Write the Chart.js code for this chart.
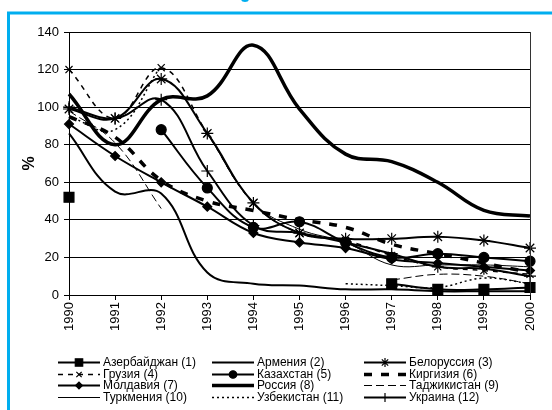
<!DOCTYPE html>
<html>
<head>
<meta charset="utf-8">
<script src="https://cdn.jsdelivr.net/npm/chart.js@4.4.1/dist/chart.umd.min.js"></script>
<style>
    html, body { margin: 0; padding: 0; background: #fff; }
    #wrap { width: 552px; height: 410px; }
</style>
</head>
<body>
<div id="wrap"><canvas id="chart" width="552" height="410"></canvas></div>
<script>
// Data
const years = ['1990', '1991', '1992', '1993', '1994', '1995', '1996', '1997', '1998', '1999', '2000'];
const yTickStep = 20;
const yMax = 140;

const azerbaijan   = [52, null, null, null, null, null, null, 6, 3, 3, 4];
const armenia      = [86, 55, 54, 12, 6, 5, 3, 3, 2, 2, 2];
const belarus      = [99, 94, 115, 86, 49, 33, 30, 30, 31, 29, 25];
const georgia      = [120, 94, 121, 86, 49, 33, 29, 21, 15, 13, 11];
const kazakhstan   = [null, null, 88, 57, 36, 39, 28, 20, 22, 20, 18];
const kyrgyzstan   = [95, 84, 61, 50, 45, 40, 36, 27, 22, 17, 12];
const moldova      = [91, 74, 60, 47, 33, 28, 25, 19, 17, 15, 13];
const russia       = [107, 80, 104, 106, 133, 99, 75, 71, 60, 45, 42];
const tajikistan   = [98, 81, 46, null, null, null, null, 8, 11, 10, 6];
const turkmenistan = [null, null, null, 86, 49, 35, 28, 16, 16, 16, 15];
const uzbekistan   = [95, 88, 122, null, null, null, 6, 5, 4, 9, 6];
const ukraine      = [100, 94, 104, 66, 37, 33, 28, 22, 15, 14, 10];

const FONT = '"Liberation Sans", Arial, sans-serif';

function series(label, data, width, dash, style, radius) {
    return {
        label: label,
        data: data,
        borderColor: '#000',
        backgroundColor: '#000',
        borderWidth: width,
        borderDash: dash,
        pointStyle: style || 'circle',
        pointRadius: style ? radius : 0,
        pointHoverRadius: style ? radius : 0,
        pointBackgroundColor: '#000',
        pointBorderColor: '#000',
        pointBorderWidth: 1.2,
        tension: 0.4,
        fill: false,
        clip: false
    };
}

const datasets = [
    series('Азербайджан (1)', azerbaijan, 2, [], 'rect', 7),
    series('Армения (2)', armenia, 2, []),
    series('Белоруссия (3)', belarus, 2, [], 'star', 6),
    series('Грузия (4)', georgia, 1.5, [5, 5], 'crossRot', 5),
    series('Казахстан (5)', kazakhstan, 2, [], 'circle', 5),
    series('Киргизия (6)', kyrgyzstan, 3.5, [8, 9]),
    series('Молдавия (7)', moldova, 2, [], 'rectRot', 4.5),
    series('Россия (8)', russia, 3.5, []),
    series('Таджикистан (9)', tajikistan, 1, [8, 4]),
    series('Туркмения (10)', turkmenistan, 1, []),
    series('Узбекистан (11)', uzbekistan, 1.5, [2, 3]),
    series('Украина (12)', ukraine, 2, [], 'cross', 6)
];

// Legend layout: three columns, four rows
const legendCols = [58, 212, 364];
const legendTop = 362;
const legendRowStep = 11.7;

const framePlugin = {
    id: 'frame',
    beforeDraw(chart) {
        const ctx = chart.ctx;
        ctx.save();
        ctx.fillStyle = '#fff';
        ctx.fillRect(0, 0, chart.width, chart.height);
        ctx.strokeStyle = '#00AEEF';
        ctx.lineWidth = 3;
        ctx.beginPath();
        ctx.moveTo(8.5, chart.height);
        ctx.lineTo(8.5, 13);
        ctx.lineTo(chart.width, 13);
        ctx.stroke();
        ctx.fillStyle = '#00AEEF';
        ctx.beginPath();
        ctx.ellipse(245, -1, 4, 3, 0, 0, Math.PI * 2);
        ctx.fill();
        ctx.restore();
    },
    afterDatasetsDraw(chart) {
        const a = chart.chartArea;
        const ctx = chart.ctx;
        ctx.save();
        ctx.strokeStyle = '#333';
        ctx.lineWidth = 1;
        ctx.beginPath();
        ctx.moveTo(Math.round(a.right) + 0.5, a.top);
        ctx.lineTo(Math.round(a.right) + 0.5, a.bottom);
        ctx.stroke();
        ctx.restore();
    }
};

const legendPlugin = {
    id: 'gridLegend',
    afterDraw(chart) {
        const ctx = chart.ctx;
        chart.data.datasets.forEach((ds, i) => {
            const x0 = legendCols[i % 3];
            const y = Math.round(legendTop + Math.floor(i / 3) * legendRowStep) + 0.5;
            ctx.save();
            ctx.strokeStyle = '#000';
            ctx.lineWidth = ds.borderWidth;
            ctx.setLineDash(ds.borderDash || []);
            ctx.beginPath();
            ctx.moveTo(x0, y);
            ctx.lineTo(x0 + 42, y);
            ctx.stroke();
            ctx.setLineDash([]);
            if (ds.pointRadius > 0) {
                ctx.fillStyle = '#000';
                ctx.lineWidth = 1.2;
                Chart.helpers.drawPoint(ctx, {
                    pointStyle: ds.pointStyle,
                    radius: ds.pointRadius * 0.75,
                    borderWidth: 1.2,
                    rotation: 0
                }, x0 + 21, y);
            }
            ctx.fillStyle = '#000';
            ctx.font = '12px ' + FONT;
            ctx.textBaseline = 'middle';
            ctx.fillText(ds.label, x0 + 45, y);
            ctx.restore();
        });
    }
};

new Chart(document.getElementById('chart'), {
    type: 'line',
    data: { labels: years, datasets: datasets },
    plugins: [framePlugin, legendPlugin],
    options: {
        responsive: false,
        animation: false,
        devicePixelRatio: 1,
        layout: { padding: { top: 32, right: 22, left: 0, bottom: 0 } },
        plugins: {
            legend: { display: false },
            tooltip: { enabled: false }
        },
        scales: {
            x: {
                type: 'category',
                offset: false,
                grid: { drawOnChartArea: false, drawTicks: true, tickLength: 5, color: '#000' },
                border: { color: '#000', width: 1 },
                ticks: {
                    minRotation: 90,
                    maxRotation: 90,
                    autoSkip: false,
                    padding: 2,
                    color: '#000',
                    font: { family: FONT, size: 13 }
                },
                afterFit: s => { s.height = 115; }
            },
            y: {
                min: 0,
                max: yMax,
                grid: { color: '#000', tickLength: 5 },
                border: { color: '#000', width: 1 },
                ticks: {
                    stepSize: yTickStep,
                    padding: 5,
                    color: '#000',
                    font: { family: FONT, size: 13 }
                },
                title: {
                    display: true,
                    text: '%',
                    color: '#000',
                    font: { family: FONT, size: 16, weight: 'bold' },
                    padding: { top: 20, bottom: 0 }
                },
                afterFit: s => { s.width = 69; }
            }
        }
    }
});
</script>
</body>
</html>
